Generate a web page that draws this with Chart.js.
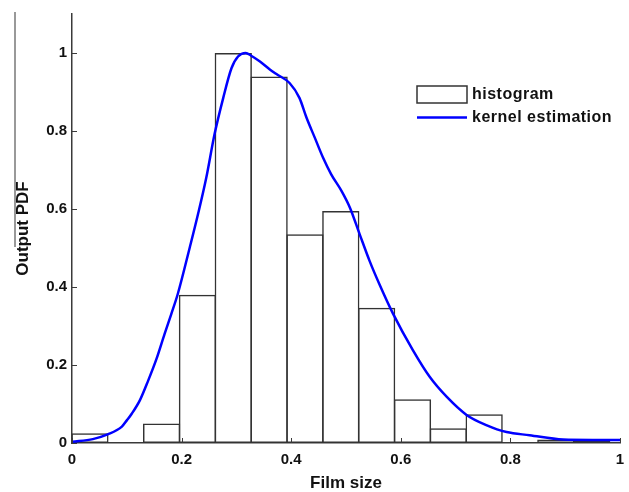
<!DOCTYPE html>
<html>
<head>
<meta charset="utf-8">
<script src="https://cdn.jsdelivr.net/npm/chart.js@4.4.1/dist/chart.umd.min.js"></script>
<style>
html,body{margin:0;padding:0;background:#fff;}
#wrap{width:629px;height:492px;}
</style>
</head>
<body>
<div id="wrap"><canvas id="c" width="629" height="492"></canvas></div>
<script>
// ---- data ----
const binCenters = [0.0327, 0.0981, 0.1635, 0.2289, 0.2943, 0.3597, 0.4251, 0.4905, 0.5559, 0.6213, 0.6867, 0.7521, 0.8175, 0.8829, 0.9483];
const binHeights = [0.025, 0, 0.05, 0.38, 1.0, 0.94, 0.535, 0.595, 0.347, 0.112, 0.038, 0.074, 0, 0.009, 0.006];
const kdeX = [0, 0.038, 0.065, 0.091, 0.1, 0.109, 0.124, 0.139, 0.154, 0.169, 0.181, 0.193, 0.215, 0.230, 0.245, 0.260, 0.276, 0.291, 0.303, 0.317, 0.327, 0.343, 0.361, 0.373, 0.397, 0.415, 0.428, 0.443, 0.458, 0.473, 0.492, 0.507, 0.525, 0.543, 0.561, 0.586, 0.622, 0.653, 0.684, 0.72, 0.756, 0.793, 0.835, 0.896, 0.95, 1.0];
const kdeY = [0.003, 0.01, 0.022, 0.042, 0.058, 0.075, 0.11, 0.16, 0.215, 0.28, 0.33, 0.382, 0.502, 0.587, 0.68, 0.791, 0.885, 0.961, 0.991, 1.0, 0.993, 0.978, 0.958, 0.946, 0.923, 0.885, 0.834, 0.783, 0.732, 0.689, 0.646, 0.604, 0.535, 0.467, 0.407, 0.331, 0.238, 0.169, 0.118, 0.072, 0.046, 0.028, 0.02, 0.009, 0.008, 0.008];
const xTicks = [0, 0.2, 0.4, 0.6, 0.8, 1];
const yTicks = [0, 0.2, 0.4, 0.6, 0.8, 1];
const seriesLabels = ['histogram', 'kernel estimation'];
const xTitle = 'Film size';
const yTitle = 'Output PDF';

const FONT = "'Liberation Sans', Arial, Helvetica, sans-serif";
const AXIS = '#3a3a3a';

const histData = binCenters.map((x, i) => ({x: x, y: binHeights[i]}));
const kdeData = kdeX.map((x, i) => ({x: x, y: kdeY[i]}));

const decor = {
  id: 'decor',
  beforeDraw(chart) {
    const ctx = chart.ctx;
    ctx.save();
    ctx.strokeStyle = '#555';
    ctx.lineWidth = 1.2;
    ctx.beginPath();
    ctx.moveTo(15, 12);
    ctx.lineTo(15, 247);
    ctx.stroke();
    ctx.restore();
  },
  afterDatasetsDraw(chart) {
    const ctx = chart.ctx;
    const xs = chart.scales.x, ys = chart.scales.y;
    ctx.save();
    ctx.strokeStyle = AXIS;
    ctx.lineWidth = 1;
    ys.ticks.forEach(t => {
      const py = Math.round(ys.getPixelForValue(t.value)) + 0.5;
      ctx.beginPath(); ctx.moveTo(xs.left, py); ctx.lineTo(xs.left + 5, py); ctx.stroke();
    });
    xs.ticks.forEach(t => {
      const px = Math.round(xs.getPixelForValue(t.value)) + 0.5;
      ctx.beginPath(); ctx.moveTo(px, ys.bottom); ctx.lineTo(px, ys.bottom - 5); ctx.stroke();
    });
    ctx.restore();
  },
  afterDraw(chart) {
    const ctx = chart.ctx;
    ctx.save();
    // legend
    const bx = 417, by = 86;
    ctx.fillStyle = '#fff';
    ctx.fillRect(bx, by, 50, 17);
    ctx.strokeStyle = '#333';
    ctx.lineWidth = 1.5;
    ctx.strokeRect(bx, by, 50, 17);
    ctx.strokeStyle = '#0000ff';
    ctx.lineWidth = 2.5;
    ctx.beginPath(); ctx.moveTo(bx, 117.5); ctx.lineTo(bx + 50, 117.5); ctx.stroke();
    ctx.fillStyle = '#111';
    ctx.font = 'bold 16px ' + FONT;
    try { ctx.letterSpacing = '0.5px'; } catch (e) {}
    ctx.textBaseline = 'middle';
    ctx.textAlign = 'left';
    ctx.fillText(seriesLabels[0], 472, 94.5);
    ctx.fillText(seriesLabels[1], 472, 117.5);
    ctx.restore();
  }
};

new Chart(document.getElementById('c'), {
  type: 'bar',
  data: {
    datasets: [
      {
        type: 'line',
        label: seriesLabels[1],
        data: kdeData,
        borderColor: '#0000ff',
        borderWidth: 2.5,
        pointRadius: 0,
        fill: false,
        cubicInterpolationMode: 'monotone',
        order: 0
      },
      {
        type: 'bar',
        label: seriesLabels[0],
        data: histData,
        backgroundColor: 'rgba(255,255,255,0)',
        borderColor: '#333333',
        borderWidth: 1.5,
        borderSkipped: false,
        barPercentage: 1.04,
        categoryPercentage: 1,
        grouped: false,
        order: 1
      }
    ]
  },
  options: {
    responsive: false,
    animation: false,
    events: [],
    layout: {padding: {top: 12, right: 9, left: 0, bottom: 0}},
    plugins: {legend: {display: false}, tooltip: {enabled: false}, title: {display: false}},
    scales: {
      x: {
        type: 'linear',
        offset: false,
        min: 0, max: 1,
        afterBuildTicks: s => { s.ticks = xTicks.map(v => ({value: v})); },
        afterFit: s => { s.height = 49; s.paddingRight = 2; s.paddingLeft = 0; },
        grid: {display: false, drawTicks: false, tickLength: 0},
        border: {display: true, color: AXIS, width: 1.5},
        ticks: {
          color: '#111',
          font: {family: FONT, size: 15, weight: 'bold'},
          padding: 8,
          maxRotation: 0,
          callback: v => String(v)
        },
        title: {display: true, text: xTitle, color: '#111', font: {family: FONT, size: 17, weight: 'bold', lineHeight: 1}, padding: {top: 0, bottom: 0}}
      },
      y: {
        type: 'linear',
        min: 0, max: 1.1,
        afterBuildTicks: s => { s.ticks = yTicks.map(v => ({value: v})); },
        afterFit: s => { s.width = 72; },
        grid: {display: false, drawTicks: false, tickLength: 0},
        border: {display: true, color: AXIS, width: 1.5},
        ticks: {
          color: '#111',
          font: {family: FONT, size: 15, weight: 'bold'},
          padding: 5,
          callback: v => String(v)
        },
        title: {display: true, text: yTitle, color: '#111', font: {family: FONT, size: 17, weight: 'bold', lineHeight: 1}, padding: {top: 15, bottom: 0}}
      }
    }
  },
  plugins: [decor]
});
</script>
</body>
</html>
